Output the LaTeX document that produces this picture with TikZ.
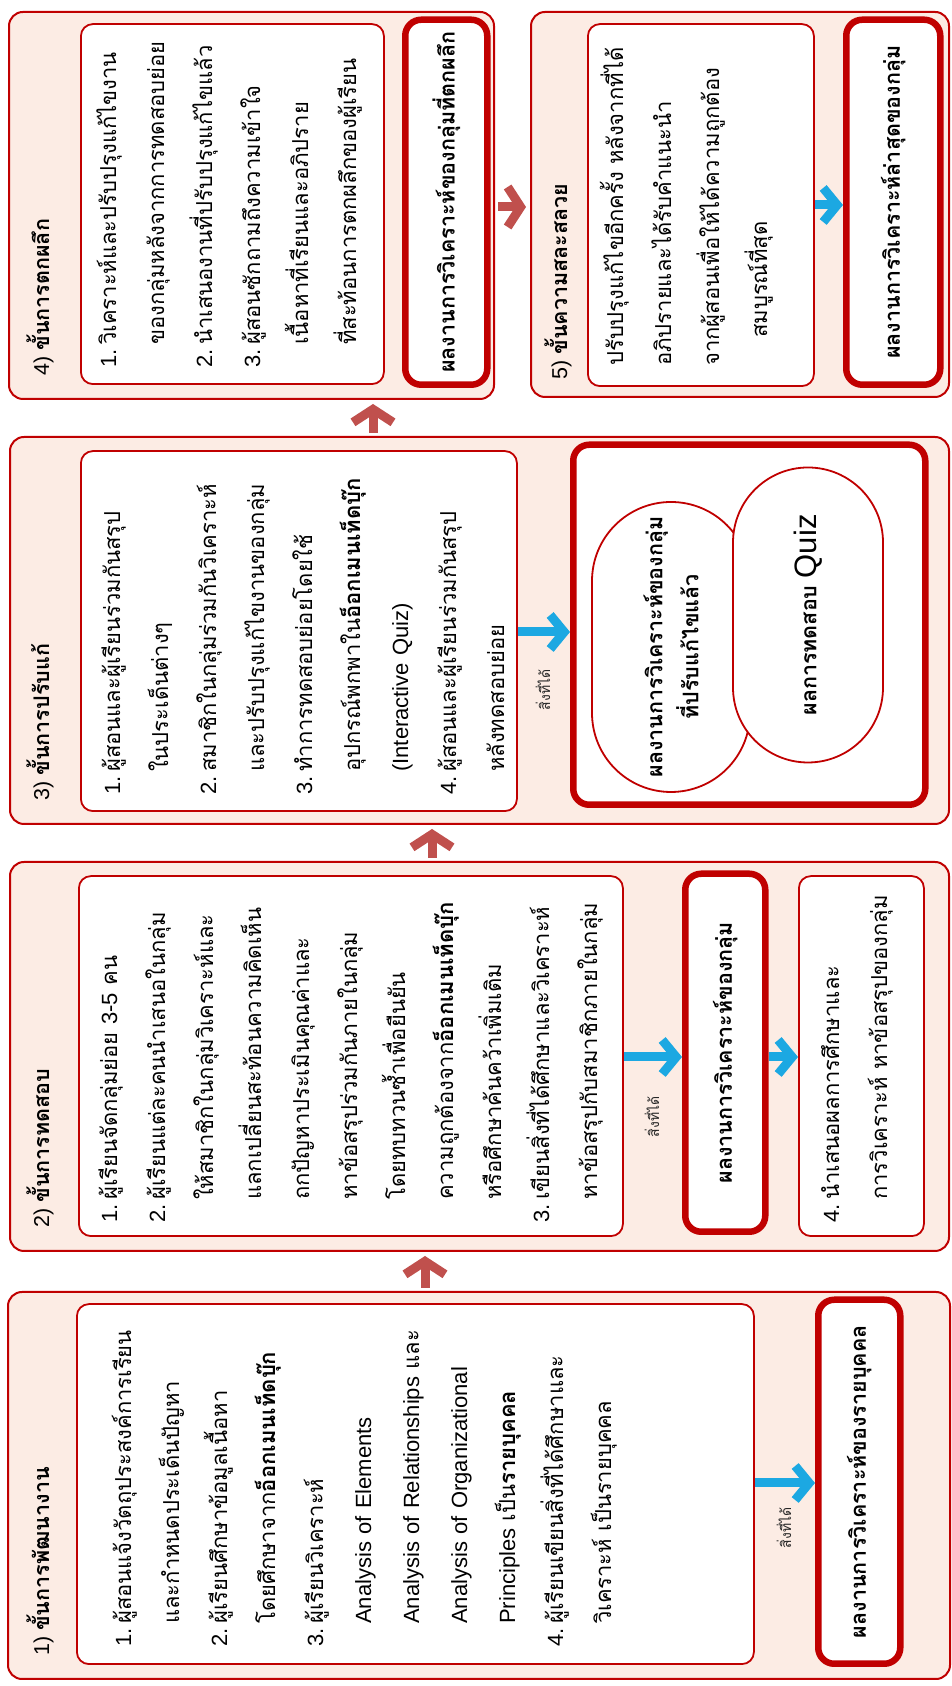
\documentclass[tikz,border=0pt]{standalone}
\usepackage{fontspec}
\setmainfont{Liberation Sans}
\newfontfamily\thai[Script=Thai]{Loma}
\newfontfamily\latinface{Liberation Sans}
\usetikzlibrary{arrows.meta,shapes.misc,calc}

\definecolor{frameRed}{RGB}{192,0,0}
\definecolor{panelFill}{RGB}{252,236,228}
\definecolor{stepArrow}{RGB}{192,80,77}
\definecolor{gainArrow}{RGB}{28,168,226}

\newcommand{\lat}[1]{{\latinface #1}}
\newcommand{\bt}[1]{{\bfseries #1}}
\newcommand{\itm}[1]{\makebox[23pt][l]{\lat{#1.}}}
\newcommand{\cont}{\hspace*{23pt}}

\tikzset{
  panel/.style={draw=frameRed, line width=2pt, fill=panelFill, rounded corners=14pt, inner sep=0pt, anchor=north west},
  listbox/.style={draw=frameRed, line width=1.8pt, fill=white, rounded corners=12pt, inner sep=0pt, anchor=north west},
  resultbox/.style={draw=frameRed, line width=6.5pt, fill=white, rounded corners=16pt, inner sep=0pt, anchor=north west},
  pill/.style={rounded rectangle, draw=frameRed, line width=1.8pt, fill=white, inner sep=0pt},
  headline/.style={anchor=base west, inner sep=0pt, font=\fontsize{21.5}{25}\selectfont\thai},
  body/.style={anchor=base west, inner sep=0pt, text width=600pt, align=left, font=\fontsize{22}{48}\selectfont\thai},
  outcome/.style={inner sep=0pt, align=center, font=\fontsize{21.5}{36}\selectfont\thai\bfseries},
  gainlabel/.style={inner sep=0pt, text=black!85, font=\fontsize{14}{16}\selectfont\thai},
  gainflow/.style={draw=gainArrow, line width=9pt, -{Straight Barb[length=14pt,width=34pt]}},
  stepflow/.style={draw=stepArrow, line width=9pt, -{Straight Barb[length=13pt,width=40pt]}, shorten <=3pt, shorten >=4pt},
}

\begin{document}
\begin{tikzpicture}[x=1pt,y=1pt]
\fill[white] (0,0) rectangle (952,1686);
\useasboundingbox (0,0) rectangle (952,1686);
\begin{scope}[rotate=90, transform shape]

% ---------- stage panels ----------
\node[panel, minimum width=387, minimum height=942] (p1) at (6,-7) {};
\node[panel, minimum width=389, minimum height=939] (p2) at (434,-9) {};
\node[panel, minimum width=387, minimum height=939] (p3) at (861,-9) {};
\node[panel, minimum width=387, minimum height=485] (p4) at (1286,-8) {};
\node[panel, minimum width=385, minimum height=418] (p5) at (1288,-530) {};

% ---------- stage titles ----------
\node[headline] (h1) at (30,-49) {\lat{1) }\bt{ขั้นการพัฒนางาน}};
\node[headline] (h2) at (458,-49) {\lat{2) }\bt{ขั้นการทดสอบ}};
\node[headline] (h3) at (885,-49) {\lat{3) }\bt{ขั้นการปรับแก้}};
\node[headline] (h4) at (1310,-49) {\lat{4) }\bt{ขั้นการตกผลึก}};
\node[headline] (h5) at (1306,-567) {\lat{5) }\bt{ขั้นความสละสลวย}};

% ---------- activity boxes ----------
\node[listbox, minimum width=360, minimum height=677] (tb1) at (21,-76) {};
\node[listbox, minimum width=360, minimum height=544] (tb2) at (449,-78) {};
\node[listbox, minimum width=360, minimum height=125] (tb2b) at (449,-798) {};
\node[listbox, minimum width=360, minimum height=436] (tb3) at (874,-80) {};
\node[listbox, minimum width=360, minimum height=303] (tb4) at (1301,-80) {};
\node[listbox, minimum width=362, minimum height=226] (tb5) at (1299,-587) {};

% ---------- outcome boxes ----------
\node[resultbox, minimum width=364, minimum height=82] (r1) at (19,-815) {};
\node[resultbox, minimum width=358, minimum height=80] (r2) at (451,-682) {};
\node[resultbox, minimum width=360, minimum height=352] (r3) at (878,-570) {};
\node[resultbox, minimum width=365, minimum height=82] (r4) at (1298,-402) {};
\node[resultbox, minimum width=365, minimum height=94] (r5) at (1298,-843) {};

\node[pill, minimum width=290, minimum height=158] (sA) at (1039,-671) {};
\node[pill, minimum width=295, minimum height=150] (sB) at (1071,-808) {};

% ---------- activity texts ----------
\node[body] (b1) at (39,-131) {%
\itm{1}ผู้สอนแจ้งวัตถุประสงค์การเรียน\\
\cont และกำหนดประเด็นปัญหา\\
\itm{2}ผู้เรียนศึกษาข้อมูลเนื้อหา\\
\cont โดยศึกษาจาก\bt{อ็อกเมนเท็ดบุ๊ก}\\
\itm{3}ผู้เรียนวิเคราะห์\\
\cont\lat{Analysis of Elements}\\
\cont\lat{Analysis of Relationships} และ\\
\cont\lat{Analysis of Organizational}\\
\cont\lat{Principles} เป็น\bt{รายบุคคล}\\
\itm{4}ผู้เรียนเขียนสิ่งที่ได้ศึกษาและ\\
\cont วิเคราะห์ เป็นรายบุคคล};

\node[body] (b2) at (463,-117) {%
\itm{1}ผู้เรียนจัดกลุ่มย่อย \lat{3-5} คน\\
\itm{2}ผู้เรียนแต่ละคนนำเสนอในกลุ่ม\\
\cont ให้สมาชิกในกลุ่มวิเคราะห์และ\\
\cont แลกเปลี่ยนสะท้อนความคิดเห็น\\
\cont ถกปัญหาประเมินคุณค่าและ\\
\cont หาข้อสรุปร่วมกันภายในกลุ่ม\\
\cont โดยทบทวนซ้ำเพื่อยืนยัน\\
\cont ความถูกต้องจาก\bt{อ็อกเมนเท็ดบุ๊ก}\\
\cont หรือศึกษาค้นคว้าเพิ่มเติม\\
\itm{3}เขียนสิ่งที่ได้ศึกษาและวิเคราะห์\\
\cont หาข้อสรุปกับสมาชิกภายในกลุ่ม};

\node[body] (b2b) at (463,-839) {%
\itm{4}นำเสนอผลการศึกษาและ\\
\cont การวิเคราะห์ หาข้อสรุปของกลุ่ม};

\node[body] (b3) at (891,-120) {%
\itm{1}ผู้สอนและผู้เรียนร่วมกันสรุป\\
\cont ในประเด็นต่างๆ\\
\itm{2}สมาชิกในกลุ่มร่วมกันวิเคราะห์\\
\cont และปรับปรุงแก้ไขงานของกลุ่ม\\
\itm{3}ทำการทดสอบย่อยโดยใช้\\
\cont อุปกรณ์พกพาใน\bt{อ็อกเมนเท็ดบุ๊ก}\\
\cont\lat{(Interactive Quiz)}\\
\itm{4}ผู้สอนและผู้เรียนร่วมกันสรุป\\
\cont หลังทดสอบย่อย};

\node[body] (b4) at (1318,-116) {%
\itm{1}วิเคราะห์และปรับปรุงแก้ไขงาน\\
\cont ของกลุ่มหลังจากการทดสอบย่อย\\
\itm{2}นำเสนองานที่ปรับปรุงแก้ไขแล้ว\\
\itm{3}ผู้สอนซักถามถึงความเข้าใจ\\
\cont เนื้อหาที่เรียนและอภิปราย\\
\cont ที่สะท้อนการตกผลึกของผู้เรียน};

\node[body] (b5) at (1320,-623) {%
ปรับปรุงแก้ไขอีกครั้ง หลังจากที่ได้\\
อภิปรายและได้รับคำแนะนำ\\
จากผู้สอนเพื่อให้ได้ความถูกต้อง\\
\hspace*{28pt}สมบูรณ์ที่สุด};

% ---------- outcome texts ----------
\node[outcome] (o1) at (r1.center) {ผลงานการวิเคราะห์ของรายบุคคล};
\node[outcome] (o2) at (r2.center) {ผลงานการวิเคราะห์ของกลุ่ม};
\node[outcome] (oA) at (sA.center) {ผลงานการวิเคราะห์ของกลุ่ม\\ที่ปรับแก้ไขแล้ว};
\node[outcome] (oB) at (sB.center) {ผลการทดสอบ \lat{\mdseries\fontsize{31}{34}\selectfont Quiz}};
\node[outcome] (o4) at (r4.center) {ผลงานการวิเคราะห์ของกลุ่มที่ตกผลึก};
\node[outcome] (o5) at (r5.center) {ผลงานการวิเคราะห์ล่าสุดของกลุ่ม};

% ---------- outcome arrows ----------
\coordinate (g1) at (203,0);
\coordinate (g2) at (629,0);
\coordinate (g3) at (1054,0);
\coordinate (g5) at (1481,0);
\draw[gainflow] ($(tb1.south west)!(g1)!(tb1.south east)$) -- ($(r1.north west)!(g1)!(r1.north east)$);
\draw[gainflow] ($(tb2.south west)!(g2)!(tb2.south east)$) -- ($(r2.north west)!(g2)!(r2.north east)$);
\draw[gainflow] ($(r2.south west)!(g2)!(r2.south east)$) -- ($(tb2b.north west)!(g2)!(tb2b.north east)$);
\draw[gainflow] ($(tb3.south west)!(g3)!(tb3.south east)$) -- ($(r3.north west)!(g3)!(r3.north east)$);
\draw[gainflow] ($(tb5.south west)!(g5)!(tb5.south east)$) -- ($(r5.north west)!(g5)!(r5.north east)$);

\node[gainlabel] (l1) at (158,-784) {สิ่งที่ได้};
\node[gainlabel] (l2) at (569,-652) {สิ่งที่ได้};
\node[gainlabel] (l3) at (996,-543) {สิ่งที่ได้};

% ---------- stage-to-stage arrows ----------
\coordinate (s12) at (0,-425);
\coordinate (s23) at (0,-432);
\coordinate (s34) at (0,-373);
\coordinate (s45) at (1479,0);
\draw[stepflow] ($(p1.north east)!(s12)!(p1.south east)$) -- ($(p2.north west)!(s12)!(p2.south west)$);
\draw[stepflow] ($(p2.north east)!(s23)!(p2.south east)$) -- ($(p3.north west)!(s23)!(p3.south west)$);
\draw[stepflow] ($(p3.north east)!(s34)!(p3.south east)$) -- ($(p4.north west)!(s34)!(p4.south west)$);
\draw[stepflow] ($(p4.south west)!(s45)!(p4.south east)$) -- ($(p5.north west)!(s45)!(p5.north east)$);

\end{scope}
\end{tikzpicture}
\end{document}
